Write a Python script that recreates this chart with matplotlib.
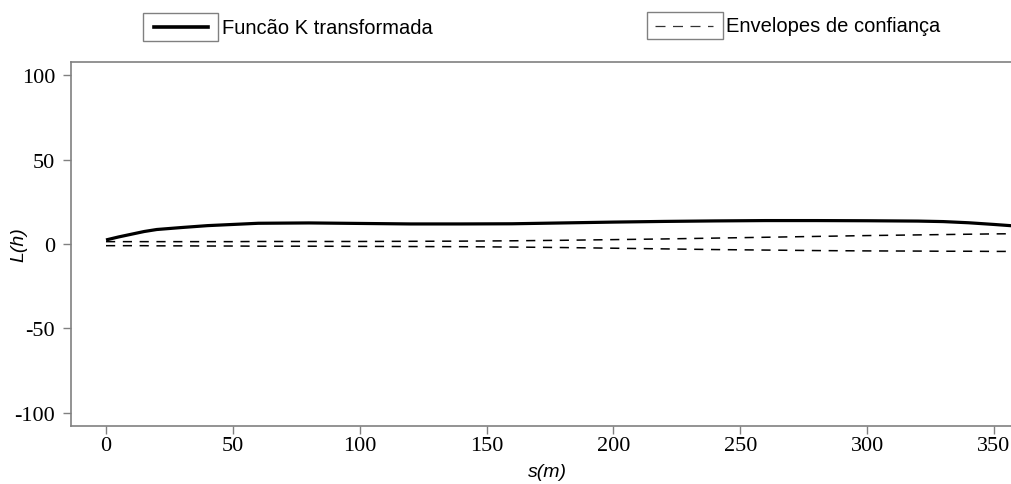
import matplotlib.pyplot as plt
from matplotlib.lines import Line2D
from matplotlib.patches import Rectangle

plt.rcParams['axes.unicode_minus'] = False

# distance (m) and transformed K function values
s = [0, 5, 10, 15, 20, 30, 40, 50, 60, 80, 100, 120, 140, 160, 180,
     200, 220, 240, 260, 280, 300, 320, 330, 340, 350, 360]
L = [2.4, 4.2, 5.8, 7.4, 8.6, 9.8, 10.9, 11.6, 12.3, 12.5, 12.2, 11.9, 11.9, 12.0, 12.5,
     13.0, 13.4, 13.7, 13.9, 13.9, 13.8, 13.6, 13.3, 12.6, 11.6, 10.5]
upper = [1.4, 1.4, 1.4, 1.4, 1.4, 1.4, 1.4, 1.4, 1.5, 1.5, 1.5, 1.6, 1.7, 1.9, 2.2,
         2.6, 3.0, 3.5, 4.0, 4.5, 5.0, 5.4, 5.6, 5.8, 6.0, 6.1]
lower = [-1.0, -1.0, -1.0, -1.0, -1.1, -1.1, -1.2, -1.2, -1.3, -1.3, -1.4, -1.5, -1.6, -1.8, -2.1,
         -2.5, -2.9, -3.3, -3.6, -3.9, -4.1, -4.2, -4.3, -4.3, -4.4, -4.4]
xticks = [0, 50, 100, 150, 200, 250, 300, 350]
yticks = [-100, -50, 0, 50, 100]

W, H = 1011, 485
fig = plt.figure(figsize=(W / 100, H / 100), dpi=100)
ax = fig.add_axes([71 / W, 1 - 427 / H, (W - 71) / W, (427 - 63) / H])

ax.plot(s, L, color='black', lw=2.3, solid_capstyle='butt')
ax.plot(s, upper, color='black', lw=1.1, dashes=(6, 5))
ax.plot(s, lower, color='black', lw=1.1, dashes=(6, 5))

ax.set_xlim(-13.8, 356.7)
ax.set_ylim(-108, 108)
ax.set_xticks(xticks)
ax.set_yticks(yticks)
ax.spines['right'].set_visible(False)
for sp in ax.spines.values():
    sp.set_color('#808080')
    sp.set_linewidth(1.2)
ax.tick_params(direction='out', length=5.5, width=1, color='#808080', pad=2)
ax.tick_params(axis='y', pad=6)
for lab in ax.get_xticklabels() + ax.get_yticklabels():
    lab.set_fontfamily('Liberation Serif')
    lab.set_fontsize(16)

ax.set_xlabel('s(m)', fontfamily='Liberation Sans', fontstyle='italic', fontsize=14)
ax.xaxis.set_label_coords(0.507, -0.103)
ax.set_ylabel('L(h)', fontfamily='Liberation Sans', fontstyle='italic', fontsize=14)
ax.yaxis.set_label_coords(-0.046, 0.5)

# legend boxes drawn R-style: frame around the key only, text outside
def fx(px):
    return px / W


def fy(py):
    return 1 - py / H


fig.patches.append(Rectangle((fx(143), fy(42)), fx(218) - fx(143), fy(14) - fy(42),
                             transform=fig.transFigure, fill=False, ec='#808080', lw=1))
fig.lines.append(Line2D([fx(154), fx(208)], [fy(28), fy(28)], transform=fig.transFigure,
                        color='black', lw=2.6))
fig.text(fx(222), fy(28), 'Funcão K transformada', fontfamily='Liberation Sans',
         fontsize=14.5, va='center', ha='left')

fig.patches.append(Rectangle((fx(647), fy(40)), fx(723) - fx(647), fy(13) - fy(40),
                             transform=fig.transFigure, fill=False, ec='#808080', lw=1))
fig.lines.append(Line2D([fx(655), fx(713)], [fy(27), fy(27)], transform=fig.transFigure,
                        color='#333333', lw=0.9, dashes=(8, 6)))
fig.text(fx(726), fy(27), 'Envelopes de confiança', fontfamily='Liberation Sans',
         fontsize=14.5, va='center', ha='left')

fig.savefig('out.png', dpi=100)
